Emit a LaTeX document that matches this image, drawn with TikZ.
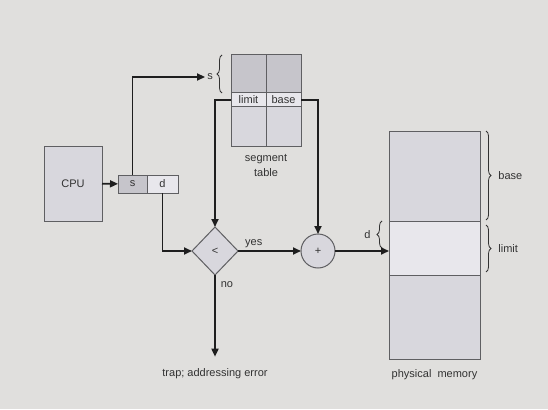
\documentclass[tikz,border=0pt]{standalone}
\usepackage{fontspec}
\setmainfont{Liberation Sans}
\usetikzlibrary{shapes.geometric, arrows.meta, positioning, decorations.pathreplacing}

\definecolor{bg}{RGB}{224,223,221}
\definecolor{edge}{RGB}{95,95,98}
\definecolor{wire}{RGB}{30,30,30}
\definecolor{ink}{RGB}{50,50,50}
\definecolor{cellfill}{RGB}{216,215,221}
\definecolor{darkfill}{RGB}{198,197,203}
\definecolor{lightfill}{RGB}{232,231,236}
\newcommand{\lblfont}{\fontsize{11}{15}\selectfont}

\begin{document}
\begin{tikzpicture}[
    x=1pt, y=-1pt,
    box/.style   = {draw=edge, line width=1pt, fill=cellfill, inner sep=0pt,
                    outer sep=0pt, text=ink, font=\lblfont},
    lbl/.style   = {text=ink, font=\lblfont, inner sep=2pt},
    arrow/.style = {-{Triangle[length=8pt,width=7pt]}, line width=1.7pt, draw=wire},
    brace/.style = {decorate, decoration={brace, amplitude=5pt}, line width=0.8pt, draw=ink}
  ]
  \fill[bg] (0,0) rectangle (548,409);
  \useasboundingbox (0,0) rectangle (548,409);

  % CPU
  \node[box, minimum width=58pt, minimum height=75pt] (cpu) at (73,183.5) {CPU};

  % logical address
  \node[box, fill=darkfill, minimum width=29pt, minimum height=18pt] (scell) at (132.5,184) {s};
  \node[box, fill=lightfill, minimum width=31pt, minimum height=18pt, right=0pt of scell] (dcell) {d};

  % segment table
  \node[box, fill=darkfill, minimum width=35pt, minimum height=38pt] (st11) at (248.5,74) {};
  \node[box, fill=darkfill, minimum width=35pt, minimum height=38pt, right=0pt of st11] (st12) {};
  \node[box, fill=lightfill, minimum width=35pt, minimum height=14pt, below=0pt of st11] (lim) {limit};
  \node[box, fill=lightfill, minimum width=35pt, minimum height=14pt, below=0pt of st12] (base) {base};
  \node[box, minimum width=35pt, minimum height=39pt, below=0pt of lim] (st31) {};
  \node[box, minimum width=35pt, minimum height=39pt, below=0pt of base] (st32) {};
  \node[lbl, align=center, below=6pt of st31.south east] (stlbl) {segment\\table};
  \node[lbl] (slbl) at (210,77) {s};
  \draw[brace] ([xshift=-9pt]st11.south west) -- ([xshift=-9pt]st11.north west);

  % compare and add
  \node[box, shape=diamond, minimum width=46pt, minimum height=48pt] (lt) at (215,251) {<};
  \node[box, shape=circle, minimum size=34pt] (adder) at (318,251) {+};
  \node[lbl] (trap) at (215,374) {trap; addressing error};

  % physical memory
  \node[box, minimum width=91pt, minimum height=90pt] (mem1) at (434.5,176) {};
  \node[box, fill=lightfill, minimum width=91pt, minimum height=54pt, below=0pt of mem1] (mem2) {};
  \node[box, minimum width=91pt, minimum height=84pt, below=0pt of mem2] (mem3) {};
  \node[lbl, below=8pt of mem3] (memlbl) {physical\ \ memory};
  \draw[brace] ([xshift=-7pt]mem2.west) -- node[lbl, left=9pt] {d} ([xshift=-7pt]mem2.north west);
  \draw[brace] ([xshift=6pt]mem1.north east) -- node[lbl, right=10pt] {base} ([xshift=6pt,yshift=1pt]mem1.south east);
  \draw[brace] ([xshift=6pt,yshift=-4pt]mem2.north east) -- node[lbl, right=10pt] {limit} ([xshift=6pt,yshift=3pt]mem2.south east);

  % Arrows
  \draw[arrow] (cpu) -- (scell);
  \draw[arrow] (scell.north) |- (slbl.west);
  \draw[arrow] (lim.west) -| (lt.north);
  \draw[arrow] (base.east) -| (adder.north);
  \draw[arrow] (dcell.south) |- (lt.west);
  \draw[arrow] (lt.east) -- node[lbl, pos=0.25, above] {yes} (adder.west);
  \draw[arrow] (lt.south) -- node[lbl, pos=0.12, right=3pt] {no} ([yshift=10pt]trap.north);
  \draw[arrow] (adder.east) -- (adder.east -| mem2.west);
\end{tikzpicture}
\end{document}
